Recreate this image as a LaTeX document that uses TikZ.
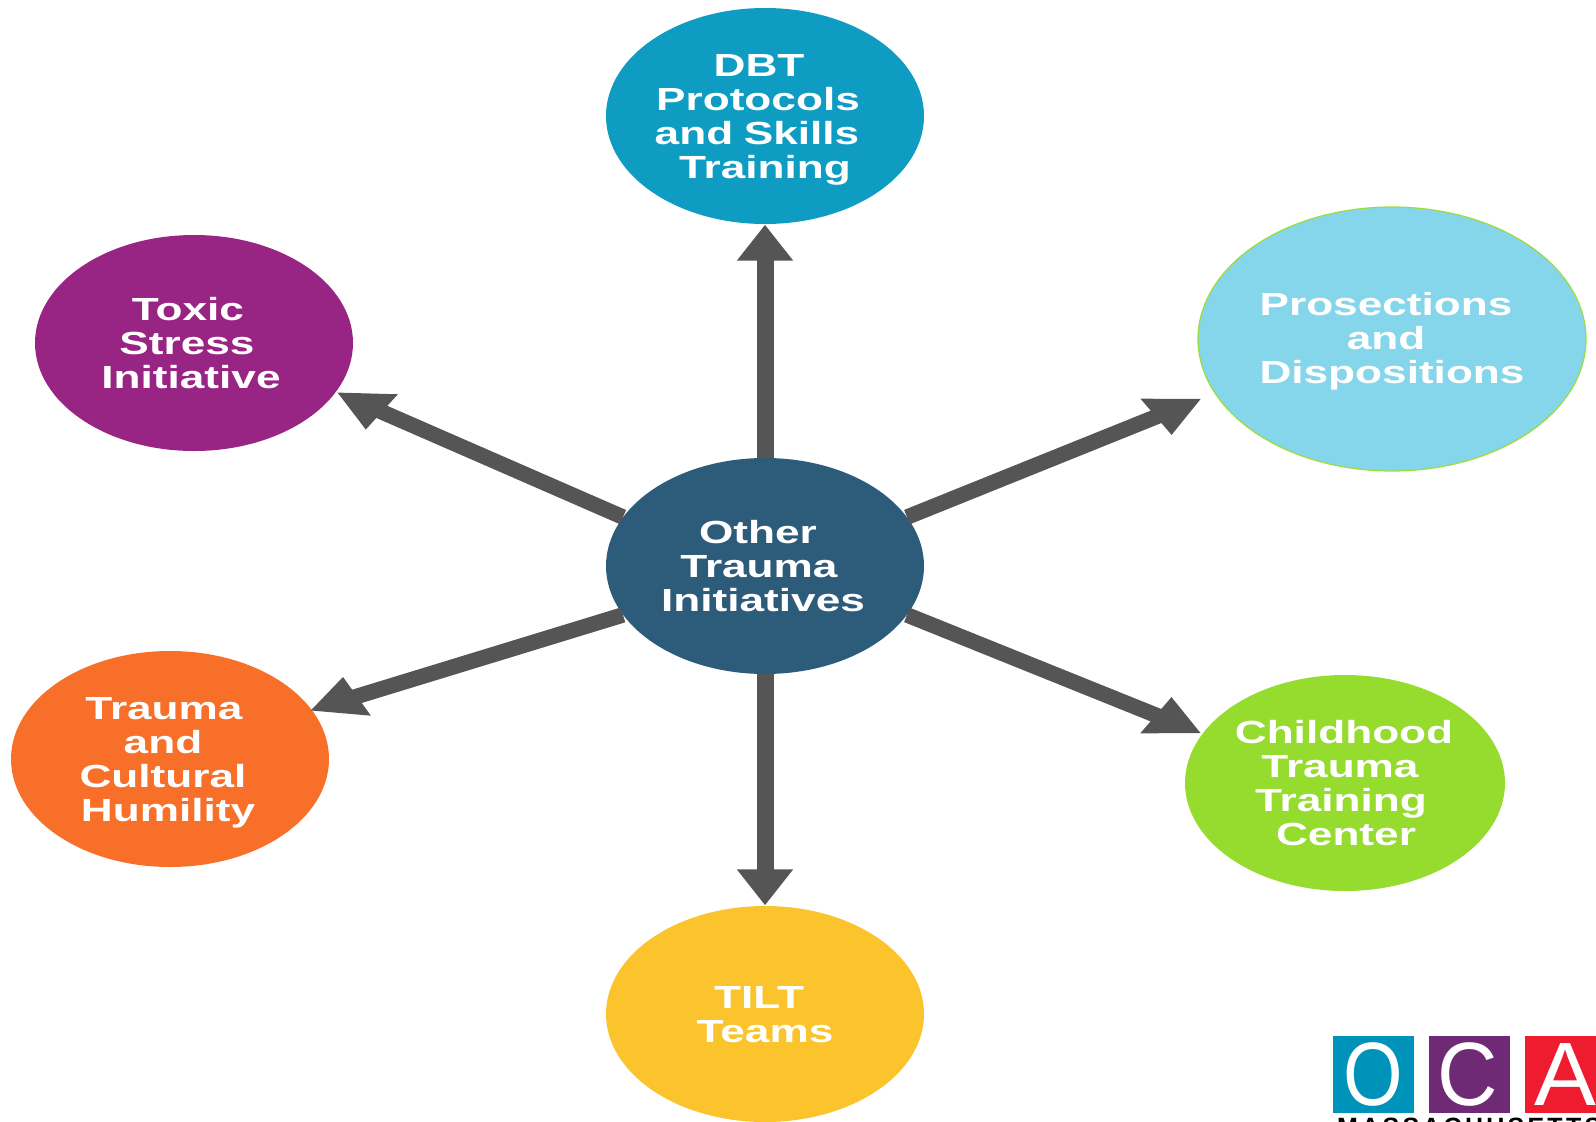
\documentclass[tikz,border=0pt]{standalone}
\usepackage{fontspec}
\usetikzlibrary{arrows.meta,shapes.geometric}
\setmainfont{Liberation Sans}
\newfontfamily\wide[FakeStretch=1.38]{Liberation Sans Bold}
\newfontfamily\logofont{Liberation Sans}
\newfontfamily\statefont[LetterSpace=13]{Liberation Sans Bold}
\newcommand{\lineat}[2]{\hspace*{#1pt}#2}
\definecolor{arrowgrey}{HTML}{555555}
\definecolor{ccenter}{HTML}{2D5C7B}
\definecolor{cdbt}{HTML}{0F9CC2}
\definecolor{ctoxic}{HTML}{982584}
\definecolor{cpros}{HTML}{85D5EB}
\definecolor{cprosline}{HTML}{9CDD3C}
\definecolor{ctrauma}{HTML}{F76F28}
\definecolor{cchild}{HTML}{95DC2F}
\definecolor{ctilt}{HTML}{FBC42C}
\definecolor{logoO}{HTML}{0093BA}
\definecolor{logoC}{HTML}{6F2A75}
\definecolor{logoA}{HTML}{EE1C2E}
\tikzset{
  bubble/.style={ellipse,inner sep=0pt,minimum width=318pt,minimum height=216pt},
  bubtext/.style={text=white,align=center,text width=310pt,inner sep=0pt,font=\wide\fontsize{32}{34}\selectfont},
  straight/.style={draw=arrowgrey,line width=17pt,-{Triangle[length=36pt,width=54pt]},arrowgrey,xshift=-1.5pt,shorten >=0.5pt},
  slantup/.style={draw=arrowgrey,line width=15.5pt,-{Triangle[length=50pt,width=41pt,slant=#1]},arrowgrey},
  logobox/.style={minimum width=81pt,minimum height=77pt,inner sep=0pt,text=white,font=\logofont\fontsize{90}{90}\selectfont},
}
\begin{document}
\begin{tikzpicture}[x=1pt,y=-1pt]
\useasboundingbox (0,0) rectangle (1596,1122);
\clip (0,0) rectangle (1596,1122);
\fill[white] (0,0) rectangle (1596,1122);
\node[bubble,fill=ccenter] (c) at (765,566) {};
\node[bubble,fill=cdbt] (dbt) at (765,116) {};
\node[bubble,fill=ctoxic] (tx) at (194,343) {};
\node[bubble,fill=cpros,draw=cprosline,line width=1.2pt,minimum width=388pt,minimum height=264pt] (pr) at (1392,339) {};
\node[bubble,fill=ctrauma] (tr) at (170,759) {};
\node[bubble,fill=cchild,minimum width=320pt] (ch) at (1345,783) {};
\node[bubble,fill=ctilt] (tl) at (765,1014) {};

\node[bubtext,xshift=-1pt] (tc) at (c.center) {\lineat{-12}{Other}\\\lineat{-10}{Trauma}\\\lineat{-2}{Initiatives}};
\node[bubtext,xshift=-1pt,yshift=-3.5pt] (tdbt) at (dbt.center) {\lineat{-10}{DBT}\\\lineat{-12}{Protocols}\\\lineat{-14}{and Skills}\\\lineat{2}{Training}};
\node[bubtext,xshift=-1pt] (ttx) at (tx.center) {\lineat{-10}{Toxic}\\\lineat{-12}{Stress}\\\lineat{-4}{Initiative}};
\node[bubtext,yshift=-2pt] (tpr) at (pr.center) {\lineat{-12}{Prosections}\\\lineat{-12}{and}\\\lineat{0}{Dispositions}};
\node[bubtext,yshift=-4pt] (ttr) at (tr.center) {\lineat{-12}{Trauma}\\\lineat{-14}{and}\\\lineat{-14}{Cultural}\\\lineat{-4}{Humility}};
\node[bubtext] (tch) at (ch.center) {\lineat{-2}{Childhood}\\\lineat{-10}{Trauma}\\\lineat{-8}{Training}\\\lineat{2}{Center}};
\node[bubtext,xshift=-1pt,yshift=-0.5pt] (ttl) at (tl.center) {\lineat{-10}{TILT}\\\lineat{2}{Teams}};

\draw[straight] (c.north) -- (dbt.south);
\draw[straight] (c.south) -- (tl.north);
\draw[slantup=-0.34,shorten >=13pt] (c.19) -- (pr.197);
\draw[slantup=0.34] (c.-19.6) -- (ch.161);
\draw[slantup=0.34] (c.161) -- (tx.-19);
\draw[slantup=-0.34,shorten >=-3pt] (c.199) -- (tr.19);

\node[logobox,fill=logoO] (lo) at (1373.5,1074.5) {\scalebox{.85}[1]{O}};
\node[logobox,fill=logoC] (lc) at (1469.5,1074.5) {\hspace{-4pt}\scalebox{.93}[1]{C}};
\node[logobox,fill=logoA] (la) at (1565.5,1074.5) {\scalebox{1.03}[1]{A}};
\node[anchor=north west,inner sep=0pt,font=\statefont\fontsize{25}{25}\selectfont] (ma) at (1337,1117.5) {MASSACHUSETTS};
\end{tikzpicture}
\end{document}
